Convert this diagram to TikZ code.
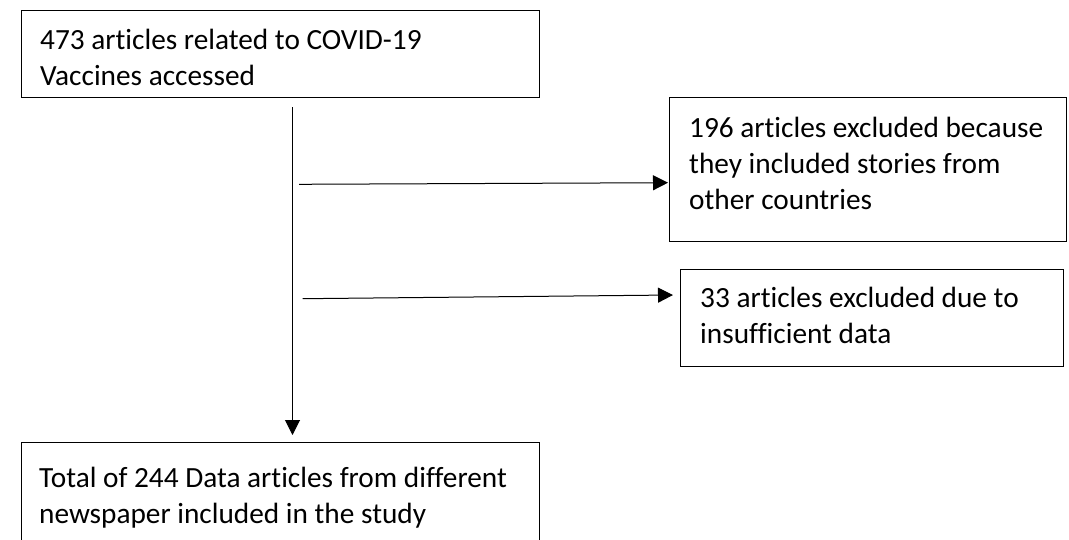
\documentclass[tikz,border=0pt]{standalone}
\usepackage{fontspec}
\setmainfont{Carlito}[Ligatures=NoCommon]
\usetikzlibrary{arrows.meta}
\begin{document}
\begin{tikzpicture}[x=1pt,y=-1pt,
  box/.style={draw=black, line width=1.4pt, rectangle, inner sep=0pt, anchor=north west},
  txt/.style={anchor=base west, inner sep=0pt, align=left, font=\fontsize{29.3}{36.3}\selectfont},
  conn/.style={line width=1pt, -{Triangle[length=15pt,width=15pt]}}]
\useasboundingbox (0,0) rectangle (1069,539);
% boxes
\node[box, minimum width=518pt, minimum height=87pt] (b1) at (21,10) {};
\node[box, minimum width=397pt, minimum height=144pt] (b2) at (669,97) {};
\node[box, minimum width=383pt, minimum height=97pt] (b3) at (680,269) {};
\node[box, minimum width=518pt, minimum height=110pt] (b4) at (21,442) {};
% texts (base anchor = baseline of the last line)
\node[txt] (t1) at ([shift={(19,75.3)}]b1.north west) {473 articles related to COVID-19\\Vaccines accessed};
\node[txt] (t2) at ([shift={(20,112.6)}]b2.north west) {196 articles excluded because\\they included stories from\\other countries};
\node[txt] (t3) at ([shift={(20,74.3)}]b3.north west) {33 articles excluded due to\\insufficient data};
\node[txt] (t4) at ([shift={(18,81.3)}]b4.north west) {Total of 244 Data articles from different\\newspaper included in the study};
% connector ends
\coordinate (v1) at (292.5,107);
\coordinate (v2) at (292.5,435);
\coordinate (h1s) at (299,184.3);
\coordinate (h1e) at (668,182.7);
\coordinate (h2s) at (302.7,298.7);
\coordinate (h2e) at (673,295);
% connectors
\draw[conn] (v1) -- (v2);
\draw[conn] (h1s) -- (h1e);
\draw[conn] (h2s) -- (h2e);
\end{tikzpicture}
\end{document}
